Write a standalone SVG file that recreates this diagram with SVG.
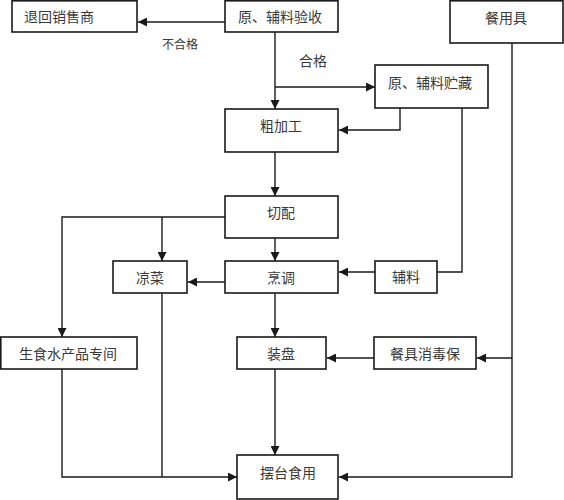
<svg xmlns="http://www.w3.org/2000/svg" width="564" height="500" viewBox="0 0 564 500">
<style>
.box{fill:#fff;stroke:#1a1a1a;stroke-width:1.6}
.t{font-family:"Noto Sans CJK SC","Noto Sans",sans-serif;font-size:14px;fill:#3a3a3a;text-anchor:middle;dominant-baseline:central}
.lbl{font-family:"Noto Sans CJK SC","Noto Sans",sans-serif;font-size:12px;fill:#3a3a3a;text-anchor:middle;dominant-baseline:central}
.c{fill:none;stroke:#1a1a1a;stroke-width:1.4}
</style>
<defs>
<marker id="ah" viewBox="0 0 10 10" refX="10" refY="5" markerWidth="9" markerHeight="9" markerUnits="userSpaceOnUse" orient="auto">
<path d="M0,0 L10,5 L0,10 Z" fill="#1a1a1a"/>
</marker>
</defs>
<rect width="564" height="500" fill="#fff"/>
<g id="connectors">
<path class="c" d="M225,22 H138" marker-end="url(#ah)"/>
<path class="c" d="M275,32 V109" marker-end="url(#ah)"/>
<path class="c" d="M275,87 H375" marker-end="url(#ah)"/>
<path class="c" d="M400,108 V130 H339" marker-end="url(#ah)"/>
<path class="c" d="M462,108 V272 H437"/>
<path class="c" d="M375,272 H339" marker-end="url(#ah)"/>
<path class="c" d="M275,152 V196" marker-end="url(#ah)"/>
<path class="c" d="M275,238 V261" marker-end="url(#ah)"/>
<path class="c" d="M225,217 H62 V337" marker-end="url(#ah)"/>
<path class="c" d="M162,217 V261" marker-end="url(#ah)"/>
<path class="c" d="M225,282 H188" marker-end="url(#ah)"/>
<path class="c" d="M275,293 V337" marker-end="url(#ah)"/>
<path class="c" d="M162,293 V477"/>
<path class="c" d="M62,369 V477 H237" marker-end="url(#ah)"/>
<path class="c" d="M275,369 V455" marker-end="url(#ah)"/>
<path class="c" d="M374,358 H327" marker-end="url(#ah)"/>
<path class="c" d="M512,43 V477 H339" marker-end="url(#ah)"/>
<path class="c" d="M512,358 H477" marker-end="url(#ah)"/>
<text class="lbl" x="180" y="43">不合格</text>
<text class="t" x="313" y="60">合格</text>
</g>
<g id="n-return"><rect class="box" x="12" y="0.8" width="125" height="31.2"/><text class="t" x="59" y="16">退回销售商</text></g>
<g id="n-accept"><rect class="box" x="225" y="0.8" width="113" height="31.2"/><text class="t" x="280" y="16">原、辅料验收</text></g>
<g id="n-utensil"><rect class="box" x="450" y="0.8" width="113" height="42.2"/><text class="t" x="506" y="17">餐用具</text></g>
<g id="n-storage"><rect class="box" x="375" y="65" width="113" height="43"/><text class="t" x="430" y="82">原、辅料贮藏</text></g>
<g id="n-rough"><rect class="box" x="225" y="109" width="113" height="43"/><text class="t" x="281" y="125">粗加工</text></g>
<g id="n-cut"><rect class="box" x="225" y="196" width="113" height="42"/><text class="t" x="281" y="212">切配</text></g>
<g id="n-cold"><rect class="box" x="113" y="261" width="74" height="32"/><text class="t" x="150" y="277">凉菜</text></g>
<g id="n-cook"><rect class="box" x="225" y="261" width="113" height="32"/><text class="t" x="281" y="277">烹调</text></g>
<g id="n-aux"><rect class="box" x="375" y="261" width="62" height="32"/><text class="t" x="406" y="276">辅料</text></g>
<g id="n-raw"><rect class="box" x="0.8" y="337" width="136.2" height="32"/><text class="t" x="68" y="353">生食水产品专间</text></g>
<g id="n-plate"><rect class="box" x="237" y="337" width="89" height="32"/><text class="t" x="281" y="353">装盘</text></g>
<g id="n-disinfect"><rect class="box" x="374" y="337" width="102" height="32"/><text class="t" x="425" y="353">餐具消毒保</text></g>
<g id="n-serve"><rect class="box" x="237" y="455" width="101" height="44"/><text class="t" x="288" y="472">摆台食用</text></g>
</svg>
